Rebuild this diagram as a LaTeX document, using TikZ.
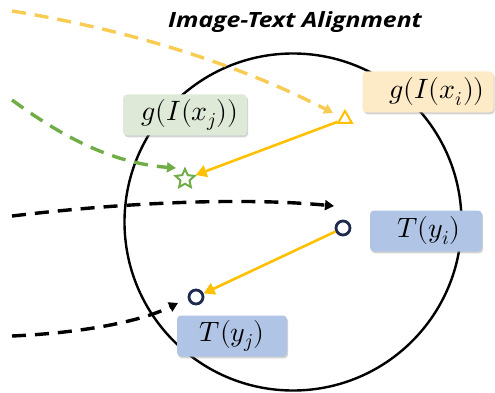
\documentclass[tikz,border=0pt]{standalone}
\usepackage{fontspec}
\usepackage{unicode-math}
\setmathfont{Latin Modern Math}
\setsansfont{Open Sans}
\usetikzlibrary{shapes.geometric,shadows,arrows.meta}
\definecolor{gold}{HTML}{FFC000}
\definecolor{goldlight}{HTML}{F8CB52}
\definecolor{leaf}{HTML}{70AD47}
\definecolor{navy}{HTML}{1F2A50}
\definecolor{boxyellow}{HTML}{FDEBC8}
\definecolor{boxgreen}{HTML}{DFE9D8}
\definecolor{boxblue}{HTML}{B0C4E6}
\tikzset{
  lbl/.style={rounded corners=4pt, inner sep=0pt, minimum height=41pt,
    font=\fontsize{28}{32}\selectfont,
    drop shadow={opacity=0.35, shadow xshift=1.2pt, shadow yshift=-1.8pt}},
  dashline/.style={dash pattern=on 14pt off 9pt, line width=3.4pt, -{Triangle[length=9pt,width=10pt]}},
  solidarrow/.style={line width=2.6pt, draw=gold, -{Triangle[length=11pt,width=12pt]}},
  ring/.style={circle, draw=navy, line width=2.8pt, minimum size=14pt, inner sep=0pt}
}
\begin{document}
\begin{tikzpicture}[x=1pt,y=-1pt]
\useasboundingbox (0,0) rectangle (495,393);
% title
\node (title) at (295,22) {\scalebox{1.18}[1]{\fontsize{21}{24}\selectfont\sffamily\bfseries\itshape Image-Text Alignment}};
% main circle
\node[circle, draw, line width=2.4pt, minimum size=337pt, inner sep=0pt] (space) at (293,222) {};
% markers
\node[regular polygon, regular polygon sides=3, draw=gold, line width=2pt, minimum size=16pt, inner sep=0pt] (tri) at (345,119) {};
\node[star, star points=5, star point ratio=2.1, draw=leaf, line width=2pt, minimum size=20pt, inner sep=0pt] (st) at (185,179) {};
\node[ring] (ci) at (343,228) {};
\node[ring] (cj) at (196,297) {};
% label boxes
\node[lbl, fill=boxyellow, minimum width=131pt] (gi) at (428,92) {\hspace{18pt}$g(I(x_i))$};
\node[lbl, fill=boxgreen, minimum width=124pt] (gj) at (185,115) {\hspace{10pt}$g(I(x_j))$};
\node[lbl, fill=boxblue, minimum width=112pt] (ti) at (426,231) {\hspace{6pt}$T(y_i)$};
\node[lbl, fill=boxblue, minimum width=110pt] (tj) at (232,336) {$T(y_j)$};
% dashed incoming curves
\coordinate (ys) at (12,11);
\coordinate (gs) at (12,100);
\coordinate (bs) at (12,216);
\coordinate (bs2) at (12,336);
\draw[dashline, draw=goldlight] (ys) .. controls (130,30) and (240,65) .. (333,113);
\draw[dashline, draw=leaf] (gs) .. controls (60,135) and (110,163) .. (176,168);
\draw[dashline, draw=black] (bs) .. controls (120,203) and (240,197) .. (334,206);
\draw[dashline, draw=black] (bs2) .. controls (80,333) and (140,322) .. (178,303);
% solid alignment arrows
\draw[solidarrow] (tri) -- (st);
\draw[solidarrow] (ci) -- (cj);
\end{tikzpicture}
\end{document}
